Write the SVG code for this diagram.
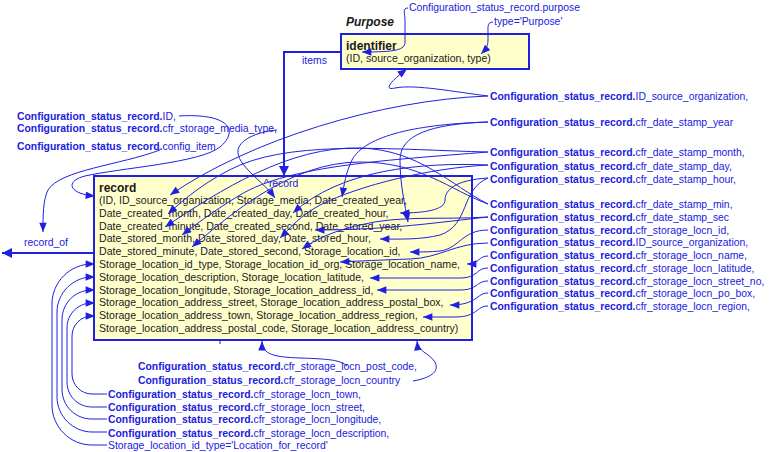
<svg xmlns="http://www.w3.org/2000/svg" width="771" height="452" viewBox="0 0 771 452">
<defs>
<style>
.bx{fill:#ffffcc;stroke:#2020e0;stroke-width:2}
.t{font-family:"Liberation Sans",Arial,sans-serif;font-size:10.6px;fill:#1a1a1a}
.h{font-family:"Liberation Sans",Arial,sans-serif;font-size:12px;font-weight:bold;fill:#1a1a1a}
.l{font-family:"Liberation Sans",Arial,sans-serif;font-size:10.4px;fill:#2020e0}
.b{font-weight:bold}
.c{fill:none;stroke:#2020e0;stroke-width:1;marker-end:url(#a)}
.n{fill:none;stroke:#2020e0;stroke-width:1}
.k{fill:none;stroke:#2020e0;stroke-width:2;marker-end:url(#ak)}
</style>
<marker id="a" viewBox="0 0 10 8" refX="10" refY="4" markerWidth="10" markerHeight="7.5" markerUnits="userSpaceOnUse" orient="auto"><path d="M0,0 L10,4 L0,8 z" fill="#2020e0"/></marker>
<marker id="ak" viewBox="0 0 10 10" refX="10" refY="5" markerWidth="11" markerHeight="10" markerUnits="userSpaceOnUse" orient="auto"><path d="M0,0 L10,5 L0,10 z" fill="#2020e0"/></marker>
</defs>

<g id="identifier">
<text class="h" x="346" y="26" font-style="italic">Purpose</text>
<rect class="bx" x="341" y="34" width="188" height="35"/>
<text class="h" x="346" y="50">identifier</text>
<text class="t" x="346" y="62">(ID, source_organization, type)</text>
</g>

<g id="record">
<rect class="bx" x="94" y="176" width="378" height="164"/>
<text class="h" x="99" y="192">record</text>
<text class="t" x="99" y="204">(ID, ID_source_organization, Storage_media, Date_created_year,</text>
<text class="t" x="99" y="216.8">Date_created_month, Date_created_day, Date_created_hour,</text>
<text class="t" x="99" y="229.6">Date_created_minute, Date_created_second, Date_stored_year,</text>
<text class="t" x="99" y="242.4">Date_stored_month, Date_stored_day, Date_stored_hour,</text>
<text class="t" x="99" y="255.2">Date_stored_minute, Date_stored_second, Storage_location_id,</text>
<text class="t" x="99" y="268">Storage_location_id_type, Storage_location_id_org, Storage_location_name,</text>
<text class="t" x="99" y="280.8">Storage_location_description, Storage_location_latitude,</text>
<text class="t" x="99" y="293.6">Storage_location_longitude, Storage_location_address_id,</text>
<text class="t" x="99" y="306.4">Storage_location_address_street, Storage_location_address_postal_box,</text>
<text class="t" x="99" y="319.2">Storage_location_address_town, Storage_location_address_region,</text>
<text class="t" x="99" y="332">Storage_location_address_postal_code, Storage_location_address_country)</text>
</g>

<g id="labels">
<text class="l" x="409" y="11">Configuration_status_record.purpose</text>
<text class="l" x="494" y="25">type='Purpose'</text>
<text class="l" x="302" y="64">items</text>
<text class="l" x="264" y="187">^record</text>
<text class="l" x="24" y="246">record_of</text>
<text class="l" x="17" y="120"><tspan class="b">Configuration_status_record.</tspan>ID,</text>
<text class="l" x="17" y="132"><tspan class="b">Configuration_status_record.</tspan>cfr_storage_media_type,</text>
<text class="l" x="17" y="150"><tspan class="b">Configuration_status_record.</tspan>config_item</text>
<text class="l" x="490" y="100"><tspan class="b">Configuration_status_record.</tspan>ID_source_organization,</text>
<text class="l" x="490" y="126"><tspan class="b">Configuration_status_record.</tspan>cfr_date_stamp_year</text>
<text class="l" x="490" y="156"><tspan class="b">Configuration_status_record.</tspan>cfr_date_stamp_month,</text>
<text class="l" x="490" y="169.5"><tspan class="b">Configuration_status_record.</tspan>cfr_date_stamp_day,</text>
<text class="l" x="490" y="182.5"><tspan class="b">Configuration_status_record.</tspan>cfr_date_stamp_hour,</text>
<text class="l" x="490" y="208"><tspan class="b">Configuration_status_record.</tspan>cfr_date_stamp_min,</text>
<text class="l" x="490" y="220.5"><tspan class="b">Configuration_status_record.</tspan>cfr_date_stamp_sec</text>
<text class="l" x="490" y="233.5"><tspan class="b">Configuration_status_record.</tspan>cfr_storage_locn_id,</text>
<text class="l" x="490" y="246"><tspan class="b">Configuration_status_record.</tspan>ID_source_organization,</text>
<text class="l" x="490" y="259"><tspan class="b">Configuration_status_record.</tspan>cfr_storage_locn_name,</text>
<text class="l" x="490" y="272"><tspan class="b">Configuration_status_record.</tspan>cfr_storage_locn_latitude,</text>
<text class="l" x="490" y="284.5"><tspan class="b">Configuration_status_record.</tspan>cfr_storage_locn_street_no,</text>
<text class="l" x="490" y="297"><tspan class="b">Configuration_status_record.</tspan>cfr_storage_locn_po_box,</text>
<text class="l" x="490" y="310"><tspan class="b">Configuration_status_record.</tspan>cfr_storage_locn_region,</text>
<text class="l" x="138" y="370"><tspan class="b">Configuration_status_record.</tspan>cfr_storage_locn_post_code,</text>
<text class="l" x="138" y="384"><tspan class="b">Configuration_status_record.</tspan>cfr_storage_locn_country</text>
<text class="l" x="108" y="398"><tspan class="b">Configuration_status_record.</tspan>cfr_storage_locn_town,</text>
<text class="l" x="108" y="411"><tspan class="b">Configuration_status_record.</tspan>cfr_storage_locn_street,</text>
<text class="l" x="108" y="423"><tspan class="b">Configuration_status_record.</tspan>cfr_storage_locn_longitude,</text>
<text class="l" x="108" y="436.5"><tspan class="b">Configuration_status_record.</tspan>cfr_storage_locn_description,</text>
<text class="l" x="108" y="449">Storage_location_id_type='Location_for_record'</text>
</g>

<g id="connectors">
<path class="k" d="M340,52 L284,52 L284,176"/>
<path class="k" d="M94,253 L2,253"/>
<path class="n" d="M220,340 L220,344"/>
<path class="c" d="M408,8 C402,8 405,14 405,20 L405,42 C405,50 396,52 362,52"/>
<path class="c" d="M493,22 C487,22 488,28 488,33 L488,40 C488,47 485,50 481,54"/>
<path class="c" d="M488,96 C455,92 415,84 395,88 C382,91 392,80 407,69"/>
<path class="c" d="M488,96 C380,100 250,140 170,195"/>
<path class="c" d="M179,116 C228,113 240,130 220,147 C200,163 120,168 85,176 C65,181 68,194 95,196"/>
<path class="c" d="M277,130 C262,131 240,138 238,150 C236,165 262,180 275,198"/>
<path class="c" d="M160,150 C120,165 60,170 48,190 C43,200 43,215 43,232"/>
<path class="c" d="M488,122 C420,124 365,135 352,160 C346,172 344,185 342,197"/>
<path class="c" d="M488,122 C430,124 400,135 400,160 C400,185 405,205 408,222"/>
<path class="c" d="M488,152 C400,150 300,140 240,165 C210,178 185,198 168,214"/>
<path class="c" d="M488,152 C390,160 290,165 240,195 C215,210 195,225 182,235"/>
<path class="c" d="M488,165 C420,162 340,170 293,213"/>
<path class="c" d="M488,165 C430,168 360,185 320,205 C300,216 290,228 280,238"/>
<path class="c" d="M488,178 C455,180 445,190 445,200 C445,210 425,213 400,213"/>
<path class="c" d="M488,178 C460,190 470,225 440,235 C420,240 400,239 380,239"/>
<path class="c" d="M488,204 C450,185 420,150 360,148 C290,146 220,190 165,227"/>
<path class="c" d="M488,204 C450,190 420,162 360,162 C290,162 230,215 192,247"/>
<path class="c" d="M488,217 C440,222 390,230 315,230"/>
<path class="c" d="M488,217 C440,220 400,215 360,225 C330,232 315,240 302,249"/>
<path class="c" d="M488,230 C462,230 460,248 440,251 C430,252 420,252 410,252"/>
<path class="c" d="M488,243 C455,243 440,258 410,259 C380,260 360,261 340,262"/>
<path class="c" d="M488,256 C478,256 480,264 467,264"/>
<path class="c" d="M488,268 C476,268 478,278 460,278 L370,278"/>
<path class="c" d="M488,281 C476,281 478,290 460,290 L377,290"/>
<path class="c" d="M488,293 C476,293 478,305 450,305"/>
<path class="c" d="M488,306 C476,306 478,317 455,317 L423,317"/>
<path class="c" d="M347,366 C340,360 330,359 300,358 C275,357 262,355 262,341"/>
<path class="c" d="M413,381 C430,378 440,372 435,362 C428,352 418,352 417,341"/>
<path class="c" d="M107,394 L92,394 C81,394 72,385 72,374 L72,336 C72,325 81,316 92,316 L95,316"/>
<path class="c" d="M107,407 L92,407 C78,407 67,396 67,382 L67,328 C67,314 78,303 92,303 L95,303"/>
<path class="c" d="M107,419 L92,419 C75,419 62,406 62,389 L62,320 C62,303 75,290 92,290 L95,290"/>
<path class="c" d="M107,432 L92,432 C73,432 57,416 57,397 L57,312 C57,293 73,277 92,277 L95,277"/>
<path class="c" d="M107,445 L92,445 C70,445 52,427 52,405 L52,304 C52,282 70,264 92,264 L95,264"/>
</g>
</svg>
